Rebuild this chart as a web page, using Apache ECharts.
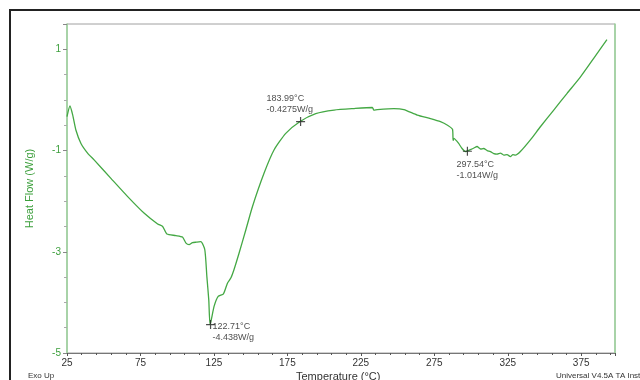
<!DOCTYPE html>
<html>
<head>
<meta charset="utf-8">
<script src="https://cdn.jsdelivr.net/npm/echarts@6/dist/echarts.min.js"></script>
<style>
  html, body { margin: 0; padding: 0; background: #fff; }
  #main { width: 640px; height: 380px; }
</style>
</head>
<body>
<div id="main"></div>
<script>
var chartDom = document.getElementById('main');
var myChart = echarts.init(chartDom);
var option;

// DSC trace: temperature (°C) and heat flow (W/g)
let temps = [25, 27, 28.9, 31.1, 34.5, 39, 43.6, 54.9, 66.3, 77.6, 86.7, 90.1, 93, 99.1, 103.6,
  106, 108.1, 110.4, 113, 116.1, 118.8, 120.2, 121.5, 122.4, 125.1, 127.9, 131.5, 134.2, 136.5,
  138.7, 142.1, 146.7, 151.2, 159.1, 165.9, 173.9, 183.4, 194.3, 206.8, 220.4, 232.8, 233.9,
  236.2, 247.5, 254.3, 263.4, 272.4, 279.2, 284, 287.4, 287.8, 288.4, 290.5, 291.6, 293.9,
  296.2, 299.6, 302, 304.1, 306.5, 308.6, 311, 313.2, 315.5, 317.7, 320, 322.3, 324.5, 326.8,
  328.5, 330.2, 333.6, 340.4, 347.2, 356.3, 365.4, 374.4, 383.5, 392.5];
let heatFlow = [-0.33, -0.12, -0.30, -0.60, -0.86, -1.05, -1.19, -1.55, -1.91, -2.24, -2.45, -2.50,
  -2.65, -2.68, -2.71, -2.83, -2.86, -2.82, -2.81, -2.80, -2.96, -3.49, -3.95, -4.44, -4.08,
  -3.88, -3.83, -3.62, -3.52, -3.35, -3.03, -2.57, -2.11, -1.45, -0.99, -0.66, -0.43, -0.27,
  -0.20, -0.17, -0.15, -0.20, -0.19, -0.17, -0.19, -0.30, -0.37, -0.43, -0.50, -0.58, -0.80,
  -0.76, -0.82, -0.86, -0.96, -1.02, -0.98, -0.95, -0.92, -0.97, -0.96, -1.00, -1.02, -1.06,
  -1.07, -1.05, -1.09, -1.08, -1.12, -1.08, -1.09, -1.02, -0.79, -0.53, -0.20, 0.13, 0.45,
  0.82, 1.19];

// annotated points
let markTemps = [122.71, 183.99, 297.54];
let markFlows = [-4.438, -0.4275, -1.014];
let markLabels = ['122.71°C\n-4.438W/g', '183.99°C\n-0.4275W/g', '297.54°C\n-1.014W/g'];
let labelOffsets = [[9, 3], [-27, -22], [-4, 15]];

let curve = temps.map(function (t, i) { return [t, heatFlow[i]]; });
let marks = markTemps.map(function (t, i) {
  return {
    value: [t, markFlows[i]],
    label: {
      show: true,
      formatter: markLabels[i],
      position: labelOffsets[i],
      align: 'left',
      verticalAlign: 'top',
      color: '#222',
      fontSize: 9,
      lineHeight: 11,
      fontFamily: 'Liberation Sans, Arial, sans-serif'
    }
  };
});

let green = '#3c9f3c';
let axisGreen = '#9bd49b';

option = {
  animation: false,
  grid: {
    left: 67, right: 25, top: 24, bottom: 27,
    show: true,
    borderColor: '#a0a0a0',
    borderWidth: 1
  },
  xAxis: {
    type: 'value',
    min: 25,
    max: 398,
    interval: 50,
    axisLine: { onZero: false, lineStyle: { color: '#777' } },
    axisTick: { show: true, length: 3, lineStyle: { color: '#555' } },
    minorTick: { show: true, splitNumber: 5, length: 2, lineStyle: { color: '#555' } },
    splitLine: { show: false },
    axisLabel: {
      showMaxLabel: false,
      color: '#333',
      fontSize: 10,
      margin: 5,
      fontFamily: 'Liberation Sans, Arial, sans-serif'
    }
  },
  yAxis: [
    {
      type: 'value',
      min: -5,
      max: 1.5,
      interval: 2,
      axisLine: { show: true, lineStyle: { color: axisGreen, width: 1.5 } },
      axisTick: { show: true, length: 4, lineStyle: { color: '#888' } },
      minorTick: { show: true, splitNumber: 4, length: 3, lineStyle: { color: '#aaa' } },
      splitLine: { show: false },
      axisLabel: {
        showMaxLabel: false,
        color: green,
        fontSize: 10,
        margin: 6,
        fontFamily: 'Liberation Sans, Arial, sans-serif'
      },
      name: 'Heat Flow (W/g)',
      nameLocation: 'middle',
      nameGap: 32,
      nameTextStyle: { color: green, fontSize: 11, fontFamily: 'Liberation Sans, Arial, sans-serif' }
    },
    {
      type: 'value',
      min: -5,
      max: 1.5,
      position: 'right',
      axisLine: { show: true, lineStyle: { color: axisGreen, width: 1.5 } },
      axisTick: { show: false },
      axisLabel: { show: false },
      splitLine: { show: false }
    }
  ],
  graphic: [
    {
      type: 'rect',
      shape: { x: 10, y: 10, width: 700, height: 500 },
      style: { fill: 'none', stroke: '#222', lineWidth: 2 },
      silent: true
    },
    {
      type: 'text', left: 28, top: 372,
      style: { text: 'Exo Up', fontSize: 8, fill: '#333', fontFamily: 'Liberation Sans, Arial, sans-serif' }
    },
    {
      type: 'text', left: 296, top: 371,
      style: { text: 'Temperature (°C)', fontSize: 11, fill: '#333', fontFamily: 'Liberation Sans, Arial, sans-serif' }
    },
    {
      type: 'text', left: 556, top: 372,
      style: { text: 'Universal V4.5A TA Instruments', fontSize: 8, fill: '#333', fontFamily: 'Liberation Sans, Arial, sans-serif' }
    }
  ],
  series: [
    {
      type: 'line',
      data: curve,
      showSymbol: false,
      smooth: 0.2,
      lineStyle: { color: '#44a844', width: 1.3 },
      z: 2
    },
    {
      type: 'scatter',
      data: marks,
      symbol: 'path://M5,0 L5,10 M0,5 L10,5',
      symbolSize: 9,
      itemStyle: { color: 'none', borderColor: '#222', borderWidth: 1.2 },
      z: 3
    }
  ]
};

option && myChart.setOption(option);
</script>
</body>
</html>
